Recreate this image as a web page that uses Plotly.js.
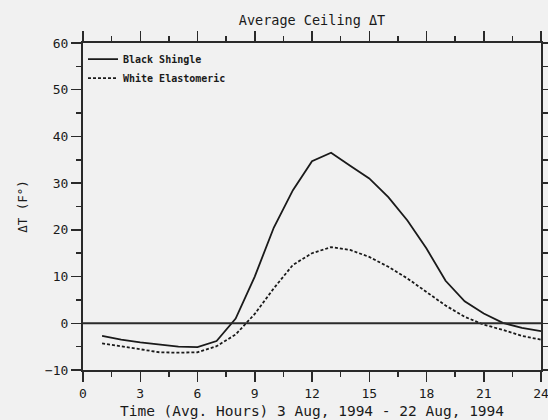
<!DOCTYPE html>
<html>
<head>
<meta charset="utf-8">
<script src="https://cdn.plot.ly/plotly-3.0.1.min.js"></script>
<style>
  html, body { margin: 0; padding: 0; background: #f1f1f1; }
  #chart { width: 548px; height: 420px; }
</style>
</head>
<body>
<div id="chart"></div>
<script>
// Hour of day (averaged), 3 Aug 1994 - 22 Aug 1994
const hours = [1, 2, 3, 4, 5, 6, 7, 8, 9, 10, 11, 12, 13, 14, 15, 16, 17, 18, 19, 20, 21, 22, 23, 24];
// Average ceiling delta T (F°)
const blackShingle = [-2.7, -3.5, -4.1, -4.6, -5.0, -5.1, -3.8, 1.0, 10.0, 20.5, 28.5, 34.7, 36.5, 33.7, 31.0, 27.0, 22.0, 16.0, 9.1, 4.7, 2.1, 0.1, -1.0, -1.7];
const whiteElastomeric = [-4.3, -4.9, -5.5, -6.2, -6.3, -6.2, -4.9, -2.4, 2.0, 7.5, 12.5, 15.0, 16.3, 15.7, 14.2, 12.1, 9.6, 6.6, 3.8, 1.4, -0.3, -1.4, -2.7, -3.5];
const seriesNames = ["Black Shingle", "White Elastomeric"];
const xTickVals = [0, 3, 6, 9, 12, 15, 18, 21, 24];
const yTickVals = [-10, 0, 10, 20, 30, 40, 50, 60];

const mono = "DejaVu Sans Mono, Liberation Mono, monospace";
const ink = "#1a1a1a";

const traces = [
  {
    x: hours, y: blackShingle, name: seriesNames[0],
    type: "scatter", mode: "lines",
    line: { color: ink, width: 1.8 }
  },
  {
    x: hours, y: whiteElastomeric, name: seriesNames[1],
    type: "scatter", mode: "lines",
    line: { color: ink, width: 1.8, dash: "3px,2px" }
  }
];

const axisCommon = {
  showgrid: false,
  showline: true,
  linecolor: "#2a2a2a",
  linewidth: 2,
  mirror: "ticks",
  ticks: "outside",
  ticklen: 10,
  tickwidth: 1.5,
  tickcolor: "#2a2a2a",
  tickfont: { family: mono, size: 13, color: ink },
  ticklabeloverflow: "allow",
  zeroline: false
};

const layout = {
  width: 548,
  height: 420,
  paper_bgcolor: "#f1f1f1",
  plot_bgcolor: "#f1f1f1",
  margin: { l: 83, r: 7, t: 43, b: 50 },
  title: {
    text: "Average Ceiling ΔT",
    font: { family: mono, size: 13.5, color: ink },
    x: 0.5, xref: "paper", xanchor: "center",
    y: 1 - 20 / 420, yanchor: "middle"
  },
  xaxis: Object.assign({}, axisCommon, {
    range: [0, 24],
    tickvals: xTickVals,
    ticktext: xTickVals.map(String),
    minor: { dtick: 1.5, tick0: 0, ticks: "outside", ticklen: 5, tickwidth: 1.5, tickcolor: "#2a2a2a" },
    title: { text: "Time (Avg. Hours) 3 Aug, 1994 - 22 Aug, 1994", font: { family: mono, size: 14.5, color: ink }, standoff: 6 }
  }),
  yaxis: Object.assign({}, axisCommon, {
    range: [-10, 60],
    tickvals: yTickVals,
    ticktext: yTickVals.map(v => v < 0 ? "\u2212" + Math.abs(v) : String(v)),
    minor: { dtick: 5, tick0: 0, ticks: "outside", ticklen: 5, tickwidth: 1.5, tickcolor: "#2a2a2a" },
    title: { text: "ΔT (F°)", font: { family: mono, size: 12.5, color: ink }, standoff: 15 }
  }),
  shapes: [
    { type: "line", xref: "paper", x0: 0, x1: 1, yref: "y", y0: 0, y1: 0, line: { color: "#2a2a2a", width: 2 } }
  ],
  showlegend: true,
  legend: {
    x: 0, xanchor: "left", y: 0.995, yanchor: "top",
    bgcolor: "rgba(0,0,0,0)",
    font: { family: mono, size: 10, color: ink, weight: "bold" },
    tracegroupgap: 0,
    itemwidth: 30
  }
};

Plotly.newPlot("chart", traces, layout, { displayModeBar: false, staticPlot: true });
</script>
</body>
</html>
